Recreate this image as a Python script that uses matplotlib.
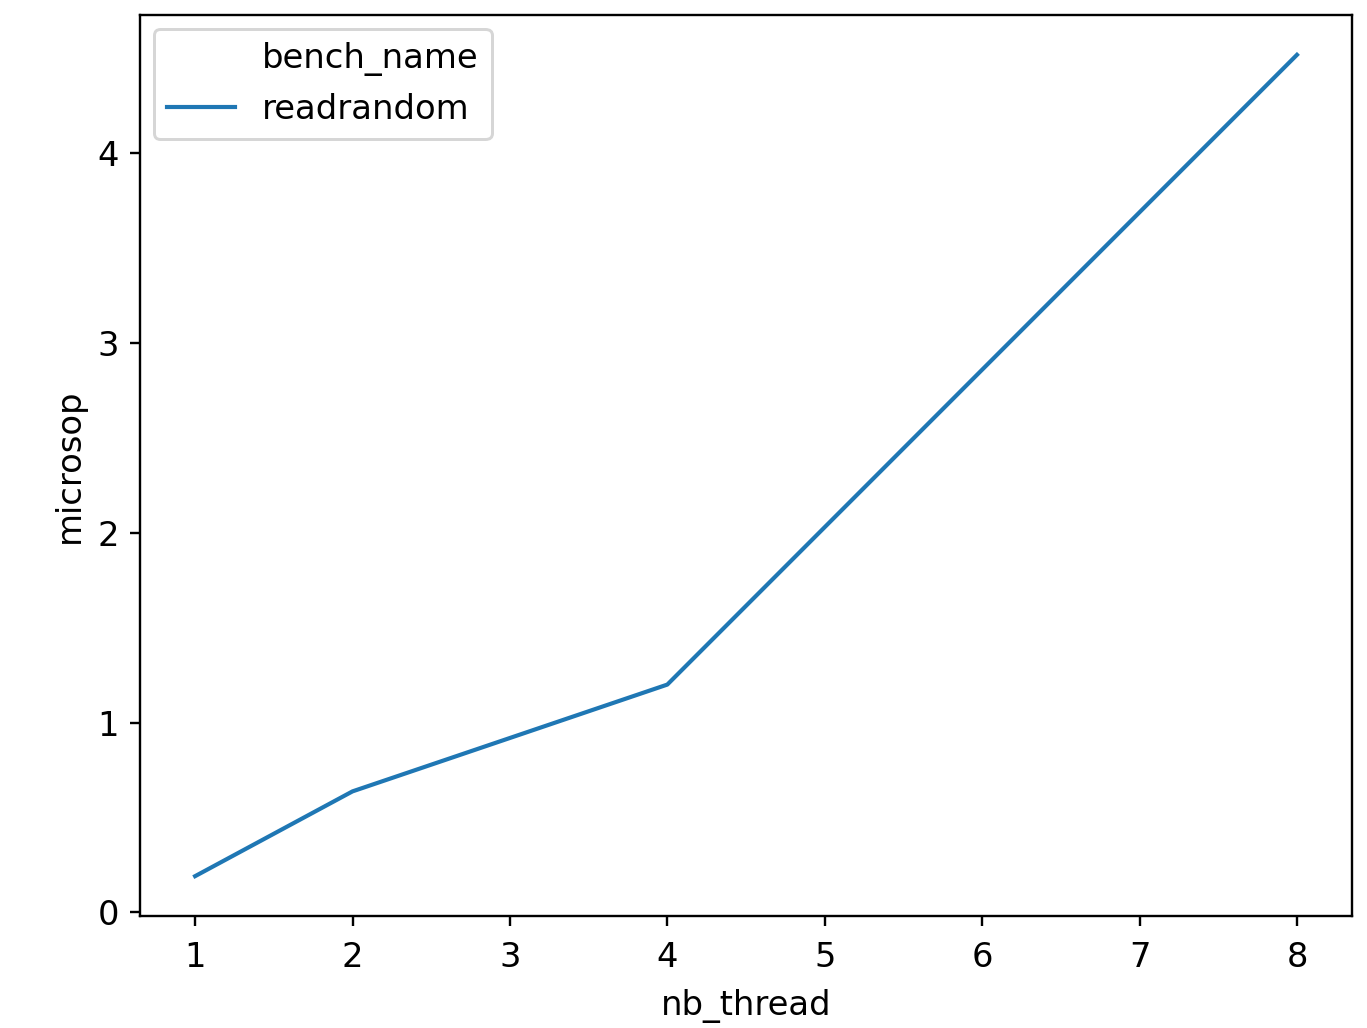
import matplotlib
matplotlib.use("Agg")
import matplotlib.pyplot as plt

nb_thread = [1, 2, 4, 8]
microsop = [0.19, 0.637, 1.20, 4.52]
bench_name = "readrandom"

plt.rcParams["font.size"] = 11.4

fig = plt.figure(figsize=(6.4, 1028 / 213.6), dpi=213.6)
ax = fig.add_axes([140 / 1367, 1 - 916 / 1028, (1352 - 140) / 1367, (916 - 15) / 1028])

# seaborn-style legend: title shown as an entry with an empty handle
ax.plot([], [], color="none", label="bench_name")
ax.plot(nb_thread, microsop, color="#1f77b4", lw=1.4, label=bench_name)

ax.set_xlim(0.65, 8.35)
ax.set_ylim(-0.02, 4.73)
ax.set_xticks(range(1, 9))
ax.set_yticks([0, 1, 2, 3, 4])
ax.tick_params(axis="x", pad=5)
ax.set_xlabel("nb_thread", labelpad=5)
ax.set_ylabel("microsop")
ax.legend(loc="upper left", borderaxespad=0.4)

fig.savefig("out.png", dpi=213.6)
